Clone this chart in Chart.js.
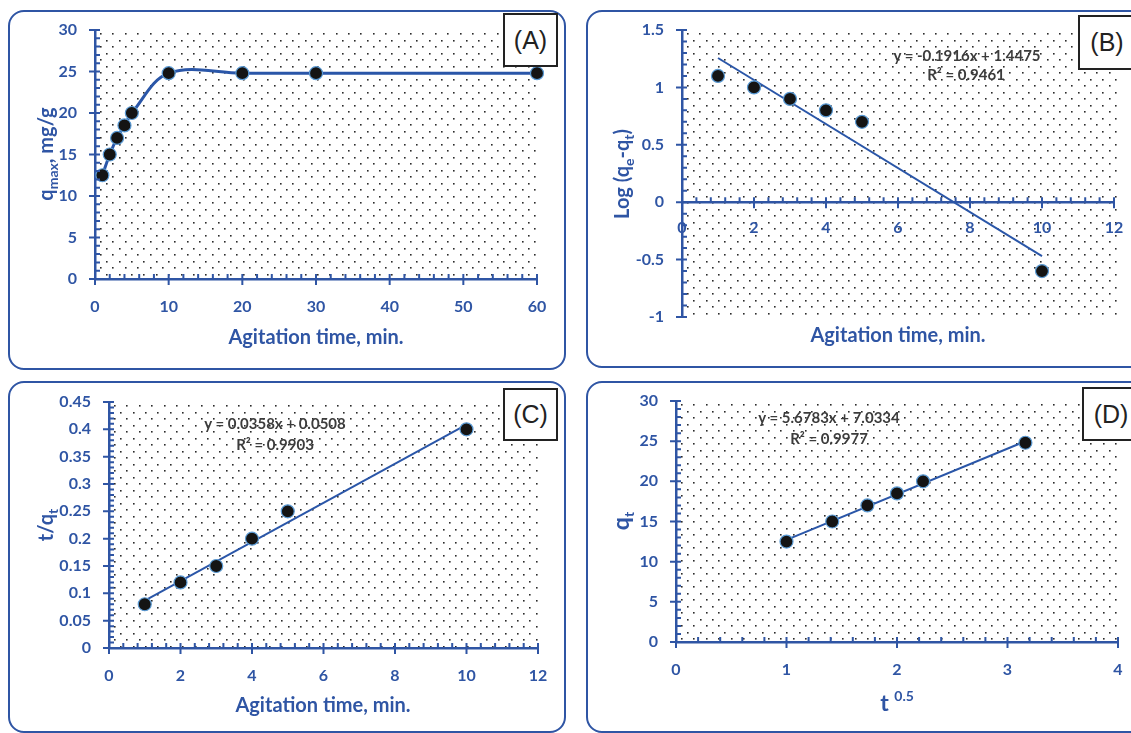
<!DOCTYPE html>
<html><head><meta charset="utf-8">
<script src="https://cdn.jsdelivr.net/npm/chart.js@4.4.1/dist/chart.umd.min.js"></script>
<style>
html,body{margin:0;padding:0;background:#fff;width:1131px;height:733px;overflow:hidden;position:relative;}
.panel{position:absolute;border:2.5px solid #2f55a4;border-radius:16px;box-sizing:border-box;}
.wrap{position:absolute;}
.wrap canvas{display:block;}
.lbl{position:absolute;background:#fff;border:2px solid #222;box-sizing:border-box;font-family:"Liberation Sans",Arial,sans-serif;font-size:25px;color:#222;display:flex;align-items:center;justify-content:center;}
.eq{position:absolute;font-family:Lato,"Open Sans",sans-serif;font-size:15px;font-weight:bold;color:#3c3c3c;transform:translate(-50%,-50%);white-space:nowrap;}
</style>
</head><body>
<div class="panel" style="left:8px;top:10px;width:558px;height:360px;"></div>
<div class="panel" style="left:586px;top:10px;width:560px;height:358px;"></div>
<div class="panel" style="left:8px;top:381px;width:558px;height:352px;"></div>
<div class="panel" style="left:586px;top:381px;width:560px;height:352px;"></div>

<div class="wrap" style="left:0;top:0;"><canvas id="cA" width="575" height="378"></canvas></div>
<div class="wrap" style="left:575px;top:0;"><canvas id="cB" width="556" height="378"></canvas></div>
<div class="wrap" style="left:0;top:378px;"><canvas id="cC" width="575" height="355"></canvas></div>
<div class="wrap" style="left:575px;top:378px;"><canvas id="cD" width="556" height="355"></canvas></div>

<div class="lbl" style="left:503px;top:13px;width:55px;height:54px;">(A)</div>
<div class="lbl" style="left:1078px;top:15px;width:58px;height:55px;">(B)</div>
<div class="lbl" style="left:503px;top:388px;width:55px;height:53px;">(C)</div>
<div class="lbl" style="left:1082px;top:387px;width:58px;height:54px;">(D)</div>

<div class="eq" style="left:967px;top:55px;">y = -0.1916x + 1.4475</div>
<div class="eq" style="left:966px;top:74px;">R² = 0.9461</div>
<div class="eq" style="left:275px;top:423px;">y = 0.0358x + 0.0508</div>
<div class="eq" style="left:275px;top:444px;">R² = 0.9903</div>
<div class="eq" style="left:829px;top:417px;">y = 5.6783x + 7.0334</div>
<div class="eq" style="left:829px;top:438px;">R² = 0.9977</div>

<script>
// ---------------- data ----------------
const timeA = [1, 2, 3, 4, 5, 10, 20, 30, 60];
const qtA = [12.5, 15, 17, 18.5, 20, 24.8, 24.8, 24.8, 24.8];

const timeB = [1, 2, 3, 4, 5, 10];
const logB = [1.1, 1.0, 0.9, 0.8, 0.7, -0.6];
const trendBX = [1, 10];
const trendBY = [1.256, -0.469];

const timeC = [1, 2, 3, 4, 5, 10];
const tqC = [0.08, 0.12, 0.15, 0.2, 0.25, 0.4];
const trendCX = [1, 10];
const trendCY = [0.0866, 0.4088];

const sqrtTD = [1, 1.414, 1.732, 2, 2.236, 3.162];
const qtD = [12.5, 15, 17, 18.5, 20, 24.8];
const trendDX = [1, 3.162];
const trendDY = [12.71, 24.99];

const xTicksA = [0, 10, 20, 30, 40, 50, 60];
const yTicksA = [0, 5, 10, 15, 20, 25, 30];
const xTicksB = [0, 2, 4, 6, 8, 10, 12];
const yTicksB = [-1, -0.5, 0, 0.5, 1, 1.5];
const xTicksC = [0, 2, 4, 6, 8, 10, 12];
const yTicksC = [0, 0.05, 0.1, 0.15, 0.2, 0.25, 0.3, 0.35, 0.4, 0.45];
const xTicksD = [0, 1, 2, 3, 4];
const yTicksD = [0, 5, 10, 15, 20, 25, 30];

// ---------------- styling ----------------
const AX = '#2f55a4';
const LINE = '#2a56a8';
const FONT = 'Lato, "Open Sans", sans-serif';

const pts = (xs, ys) => xs.map((x, i) => ({x: x, y: ys[i]}));

const dotsPlugin = {
  id: 'dots',
  beforeDraw(chart) {
    const a = chart.chartArea, ctx = chart.ctx;
    ctx.save();
    ctx.fillStyle = '#2b2b2b';
    let r = 0;
    for (let y = a.top + 3; y < a.bottom - 1; y += 6.5, r++) {
      const off = (r % 2) ? 6.2 : 0;
      for (let x = a.left + 5 + off; x < a.right + 2; x += 12.4) {
        ctx.fillRect(Math.round(x), Math.round(y), 1.6, 1.6);
      }
    }
    ctx.restore();
  }
};

const ticksPlugin = {
  id: 'axisTicks',
  afterDraw(chart) {
    const ctx = chart.ctx, xs = chart.scales.x, ys = chart.scales.y;
    const a = chart.chartArea;
    const at = chart.options.plugins.axisTicks.xAt;
    const axY = at !== undefined ? ys.getPixelForValue(at) : a.bottom;
    const axX = a.left;
    ctx.save();
    ctx.strokeStyle = AX;
    ctx.lineWidth = 2;
    ctx.beginPath();
    const xt = xs.ticks.map(t => t.value);
    for (let i = 0; i < xt.length; i++) {
      const px = xs.getPixelForValue(xt[i]);
      ctx.moveTo(px, axY - 5); ctx.lineTo(px, axY + 6);
      if (i < xt.length - 1) {
        for (let k = 1; k < 5; k++) {
          const m = xs.getPixelForValue(xt[i] + (xt[i + 1] - xt[i]) * k / 5);
          ctx.moveTo(m, axY); ctx.lineTo(m, axY - 5);
        }
      }
    }
    const yt = ys.ticks.map(t => t.value);
    for (let i = 0; i < yt.length; i++) {
      const py = ys.getPixelForValue(yt[i]);
      ctx.moveTo(axX - 6, py); ctx.lineTo(axX + 5, py);
      if (i < yt.length - 1) {
        for (let k = 1; k < 5; k++) {
          const m = ys.getPixelForValue(yt[i] + (yt[i + 1] - yt[i]) * k / 5);
          ctx.moveTo(axX, m); ctx.lineTo(axX + 5, m);
        }
      }
    }
    ctx.stroke();
    ctx.restore();
  }
};

function drawRich(ctx, segs, cx, cy, size, rotate) {
  ctx.save();
  ctx.translate(cx, cy);
  if (rotate) ctx.rotate(-Math.PI / 2);
  ctx.fillStyle = AX;
  ctx.textBaseline = 'alphabetic';
  const fontOf = s => 'bold ' + (s.sub || s.sup ? Math.round(size * 0.68) : (s.big ? Math.round(size * 1.15) : size)) + 'px ' + FONT;
  let w = 0;
  segs.forEach(s => { ctx.font = fontOf(s); s.w = ctx.measureText(s.t).width; w += s.w; });
  let x = -w / 2;
  const base = size * 0.35;
  segs.forEach(s => {
    ctx.font = fontOf(s);
    let dy = base;
    if (s.sub) dy += size * 0.25;
    if (s.sup) dy -= size * 0.5;
    ctx.fillText(s.t, x, dy);
    x += s.w;
  });
  ctx.restore();
}

const titlesPlugin = {
  id: 'titles',
  afterDraw(chart) {
    const o = chart.options.plugins.titles;
    drawRich(chart.ctx, o.x, o.xPos[0], o.xPos[1], 20, false);
    drawRich(chart.ctx, o.y, o.yPos[0], o.yPos[1], 20, true);
  }
};

function scaleOpts(axis, min, max, tickArr, size, pad) {
  return {
    type: 'linear', min: min, max: max,
    afterBuildTicks: s => { s.ticks = tickArr.map(v => ({value: v})); },
    afterFit: s => {
      if (axis === 'x') {
        if (size) s.height = size;
        s.paddingLeft = 0; s.paddingRight = 0;
      } else {
        s.width = size;
        s.paddingTop = 0; s.paddingBottom = 0;
      }
    },
    grid: {display: true, drawOnChartArea: false, drawTicks: false},
    border: {display: true, color: AX, width: 2.5},
    ticks: {color: AX, font: {family: FONT, size: 16, weight: 'bold'}, padding: pad,
            autoSkip: false, maxRotation: 0, callback: v => String(v)}
  };
}

const pointStyle = {
  pointRadius: 6.5, pointBackgroundColor: '#141414', pointBorderColor: '#5b9bd5',
  pointBorderWidth: 1.2, pointHoverRadius: 6.5, clip: false
};

function makeChart(id, datasets, xs, ys, padding, titles, xAt) {
  return new Chart(document.getElementById(id), {
    type: 'scatter',
    data: {datasets: datasets},
    options: {
      responsive: false, animation: false, devicePixelRatio: 1,
      layout: {padding: padding},
      scales: {x: xs, y: ys},
      plugins: {legend: {display: false}, tooltip: {enabled: false},
                titles: titles, axisTicks: {xAt: xAt}}
    },
    plugins: [dotsPlugin, ticksPlugin, titlesPlugin]
  });
}

// ---- A ----
makeChart('cA',
  [Object.assign({data: pts(timeA, qtA), showLine: true, borderColor: LINE, borderWidth: 3, tension: 0.36}, pointStyle)],
  scaleOpts('x', 0, 60, xTicksA, 99, 18),
  scaleOpts('y', 0, 30, yTicksA, 95, 18),
  {top: 30, right: 38, left: 0, bottom: 0},
  {x: [{t: 'Agitation time, min.'}], xPos: [316, 337],
   y: [{t: 'q'}, {t: 'max', sub: true}, {t: ', mg/g'}], yPos: [46, 154]});

// ---- B ----
const xB = scaleOpts('x', 0, 12, xTicksB, 0, 16);
xB.position = {y: 0};
makeChart('cB',
  [Object.assign({data: pts(timeB, logB), showLine: false, order: 0}, pointStyle),
   {data: pts(trendBX, trendBY), showLine: true, borderColor: LINE, borderWidth: 2, pointRadius: 0, order: 1, clip: false}],
  xB,
  scaleOpts('y', -1, 1.5, yTicksB, 107, 18),
  {top: 30, right: 17, left: 0, bottom: 61},
  {x: [{t: 'Agitation time, min.'}], xPos: [323, 335],
   y: [{t: 'Log (q'}, {t: 'e', sub: true}, {t: '-q'}, {t: 't', sub: true}, {t: ')'}], yPos: [47, 174]},
  0);

// ---- C ----
makeChart('cC',
  [Object.assign({data: pts(timeC, tqC), showLine: false, order: 0}, pointStyle),
   {data: pts(trendCX, trendCY), showLine: true, borderColor: LINE, borderWidth: 2, pointRadius: 0, order: 1, clip: false}],
  scaleOpts('x', 0, 12, xTicksC, 85, 18),
  scaleOpts('y', 0, 0.45, yTicksC, 109, 18),
  {top: 24, right: 37, left: 0, bottom: 0},
  {x: [{t: 'Agitation time, min.'}], xPos: [323, 327],
   y: [{t: 't/q'}, {t: 't', sub: true}], yPos: [46, 147]});

// ---- D ----
makeChart('cD',
  [Object.assign({data: pts(sqrtTD, qtD), showLine: false, order: 0}, pointStyle),
   {data: pts(trendDX, trendDY), showLine: true, borderColor: LINE, borderWidth: 2, pointRadius: 0, order: 1, clip: false}],
  scaleOpts('x', 0, 4, xTicksD, 91, 18),
  scaleOpts('y', 0, 30, yTicksD, 101, 18),
  {top: 23, right: 13, left: 0, bottom: 0},
  {x: [{t: 't ', big: true}, {t: '0.5', sup: true}], xPos: [322, 326],
   y: [{t: 'q', big: true}, {t: 't', sub: true}], yPos: [47, 143]});
</script>
</body></html>
